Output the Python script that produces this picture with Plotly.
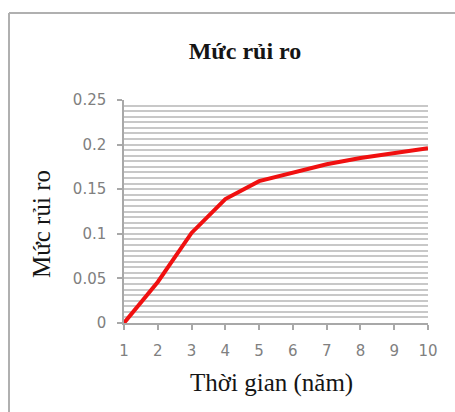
import plotly.graph_objects as go

years = [1, 2, 3, 4, 5, 6, 7, 8, 9, 10]
risk = [0.0, 0.046, 0.101, 0.139, 0.159, 0.169, 0.178, 0.185, 0.191, 0.196]
y_ticks = [0, 0.05, 0.1, 0.15, 0.2, 0.25]
y_tick_labels = ["0", "0.05", "0.1", "0.15", "0.2", "0.25"]

W, H = 455, 412
L, R, T, B = 124, 27, 100, 89
pw, ph = W - L - R, H - T - B

fig = go.Figure()
fig.add_trace(go.Scatter(x=years, y=risk, mode="lines",
                         line=dict(color="#f01010", width=4), showlegend=False))

def px_to_paper_x(px):
    return (px - L) / pw

def px_to_paper_y(py):
    return (H - B - py) / ph

fig.add_shape(type="line", xref="paper", yref="paper",
              x0=px_to_paper_x(9), x1=px_to_paper_x(9),
              y0=px_to_paper_y(13), y1=px_to_paper_y(413),
              line=dict(color="#b0b0b0", width=2))
fig.add_shape(type="line", xref="paper", yref="paper",
              x0=px_to_paper_x(9), x1=px_to_paper_x(456),
              y0=px_to_paper_y(13), y1=px_to_paper_y(13),
              line=dict(color="#b0b0b0", width=2))

tick_font = dict(family="DejaVu Sans, sans-serif", size=15, color="#808080")
serif = "Liberation Serif, DejaVu Serif, serif"
title_font = dict(family=serif, size=25, color="#151515")

fig.add_annotation(text="Thời gian (năm)", xref="paper", yref="paper",
                   x=px_to_paper_x(271), y=px_to_paper_y(383),
                   xanchor="center", yanchor="middle", showarrow=False,
                   font=title_font)
fig.add_annotation(text="Mức rủi ro", xref="paper", yref="paper",
                   x=px_to_paper_x(41), y=px_to_paper_y(224),
                   xanchor="center", yanchor="middle", showarrow=False,
                   textangle=-90, font=title_font)

fig.update_layout(
    width=W, height=H,
    margin=dict(l=L, r=R, t=T, b=B),
    paper_bgcolor="white", plot_bgcolor="white",
    title=dict(text="<b>Mức rủi ro</b>", x=245 / W, xanchor="center",
               y=1 - 51 / H, yanchor="middle",
               font=dict(family=serif, size=24, color="#151515")),
    xaxis=dict(range=[1, 10], tickmode="array", tickvals=years,
               ticktext=[str(v) for v in years], tickfont=tick_font,
               showline=True, linecolor="#a8a8a8", linewidth=1.5,
               ticks="outside", ticklen=5, tickcolor="#a8a8a8", tickwidth=1.5,
               ticklabelstandoff=8,
               showgrid=False, zeroline=False),
    yaxis=dict(range=[0, 0.25], tickmode="array", tickvals=y_ticks,
               ticktext=y_tick_labels, tickfont=tick_font,
               showline=True, linecolor="#a8a8a8", linewidth=1.5,
               ticks="outside", ticklen=5, tickcolor="#a8a8a8", tickwidth=1.5,
               ticklabelstandoff=8,
               showgrid=True, gridcolor="#c8c8c8", gridwidth=1.5,
               zeroline=False,
               minor=dict(dtick=0.05 / 8, showgrid=True, gridcolor="#c8c8c8",
                          gridwidth=1.5, ticks="")),
)

fig.write_html("out.html")
